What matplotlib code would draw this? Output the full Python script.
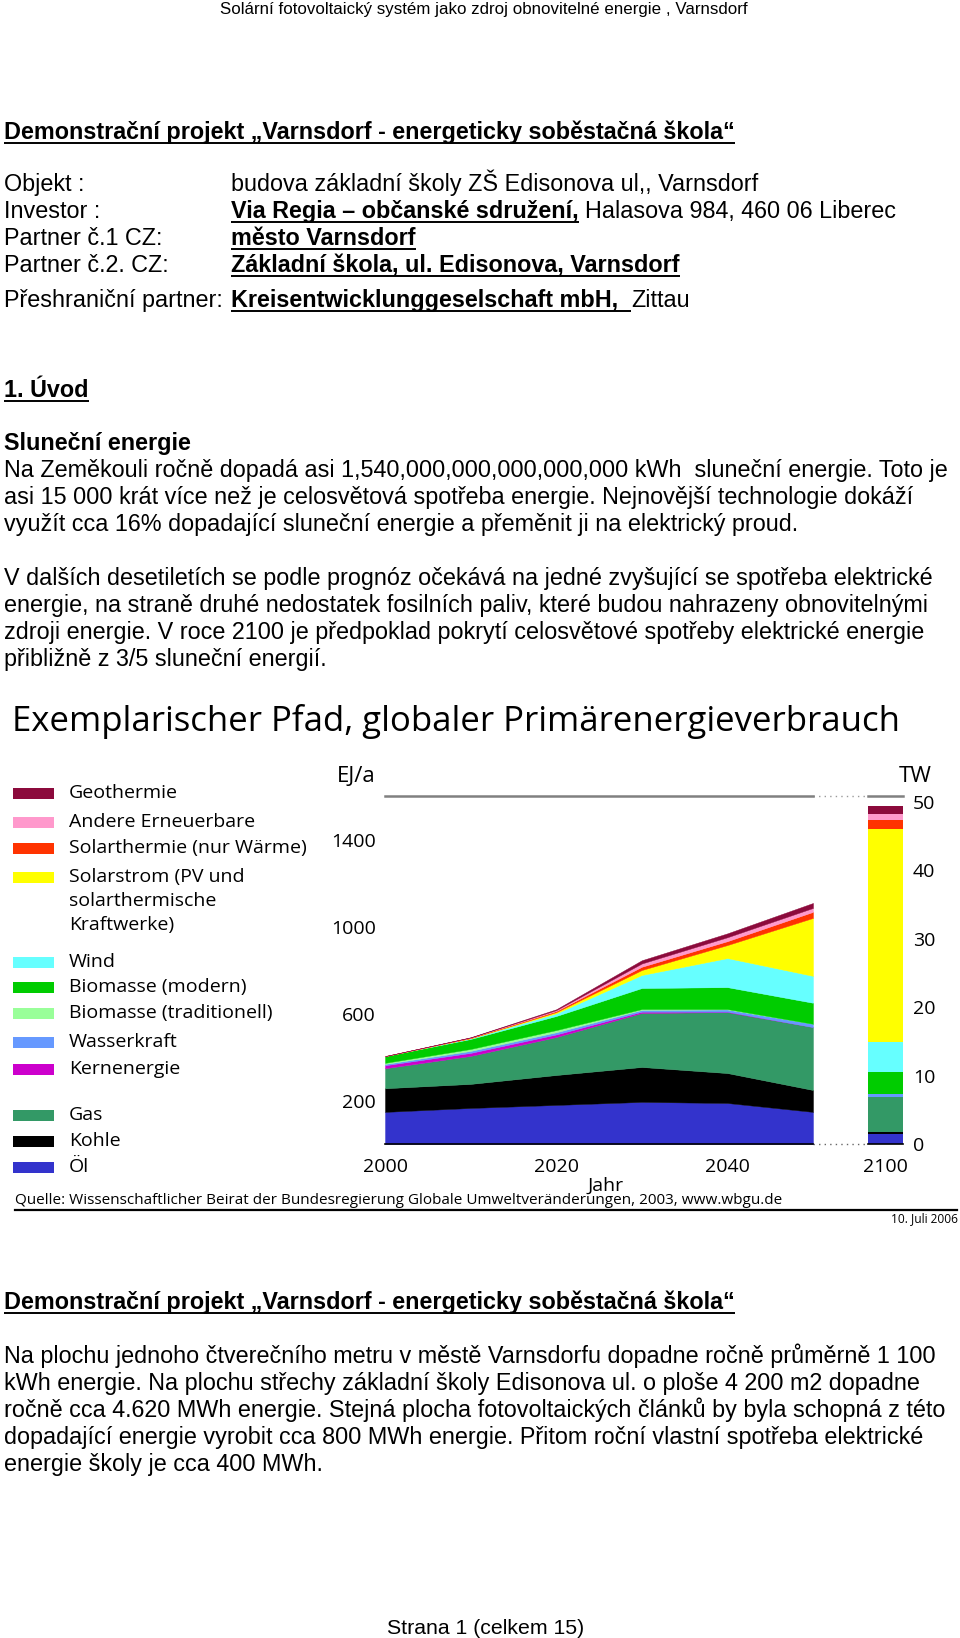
import numpy as np
import matplotlib
matplotlib.use('Agg')
import matplotlib.pyplot as plt
from matplotlib.patches import Rectangle

W, H = 960, 1638

# --- chart data, EJ/a (stack order bottom -> top)
years = [2000, 2010, 2020, 2030, 2040, 2050]
oel = [148, 166, 180, 194, 189, 148]
kohle = [109, 111, 138, 161, 138, 101]
gas = [92, 129, 175, 249, 281, 290]
kern = [14, 14, 12, 6, 2, 0]
wasser = [6, 9, 10, 8, 10, 15]
bio_trad = [5, 9, 10, 4, 2, 0]
bio_mod = [31, 46, 65, 97, 101, 97]
wind = [0, 3, 12, 60, 134, 124]
solarstrom = [0, 1, 6, 23, 60, 267]
solarthermie = [0, 2, 5, 15, 18, 28]
andere = [0, 1, 4, 15, 18, 18]
geothermie = [0, 1, 4, 15, 18, 23]

year_end = 2100
values_2100 = [46, 8, 161, 0, 15, 0, 100, 138, 983, 43, 26, 38]

labels = ['Öl', 'Kohle', 'Gas', 'Kernenergie', 'Wasserkraft',
          'Biomasse (traditionell)', 'Biomasse (modern)', 'Wind',
          'Solarstrom (PV und\nsolarthermische\nKraftwerke)',
          'Solarthermie (nur Wärme)', 'Andere Erneuerbare', 'Geothermie']
colors = ['#3333cc', '#000000', '#339966', '#cc00cc', '#6699ff', '#99ff99',
          '#00cc00', '#66ffff', '#ffff00', '#ff3300', '#ff99cc', '#8c0a3c']

ej_ticks = [200, 600, 1000, 1400]
tw_ticks = [0, 10, 20, 30, 40, 50]
EJ_PER_TW = 31.536
YMAX = 1604

# --- page text
header = 'Solární fotovoltaický systém jako zdroj obnovitelné energie , Varnsdorf'
project_title = 'Demonstrační projekt „Varnsdorf - energeticky soběstačná škola“'
info_rows = [
    ('Objekt :', [('budova základní školy ZŠ Edisonova ul,, Varnsdorf', False, False)]),
    ('Investor :', [('Via Regia – občanské sdružení,', True, True),
                    (' Halasova 984, 460 06 Liberec', False, False)]),
    ('Partner č.1 CZ:', [('město Varnsdorf', True, True)]),
    ('Partner č.2. CZ:', [('Základní škola, ul. Edisonova, Varnsdorf', True, True)]),
    ('Přeshraniční partner:', [('Kreisentwicklunggeselschaft mbH,  ', True, True),
                               ('Zittau', False, False)]),
]
para1 = ['Na Zeměkouli ročně dopadá asi 1,540,000,000,000,000,000 kWh  sluneční energie. Toto je',
         'asi 15 000 krát více než je celosvětová spotřeba energie. Nejnovější technologie dokáží',
         'využít cca 16% dopadající sluneční energie a přeměnit ji na elektrický proud.']
para2 = ['V dalších desetiletích se podle prognóz očekává na jedné zvyšující se spotřeba elektrické',
         'energie, na straně druhé nedostatek fosilních paliv, které budou nahrazeny obnovitelnými',
         'zdroji energie. V roce 2100 je předpoklad pokrytí celosvětové spotřeby elektrické energie',
         'přibližně z 3/5 sluneční energií.']
para3 = ['Na plochu jednoho čtverečního metru v městě Varnsdorfu dopadne ročně průměrně 1 100',
         'kWh energie. Na plochu střechy základní školy Edisonova ul. o ploše 4 200 m2 dopadne',
         'ročně cca 4.620 MWh energie. Stejná plocha fotovoltaických článků by byla schopná z této',
         'dopadající energie vyrobit cca 800 MWh energie. Přitom roční vlastní spotřeba elektrické',
         'energie školy je cca 400 MWh.']
chart_title = 'Exemplarischer Pfad, globaler Primärenergieverbrauch'
quelle = 'Quelle: Wissenschaftlicher Beirat der Bundesregierung Globale Umweltveränderungen, 2003, www.wbgu.de'

plt.rcParams['font.family'] = ['Open Sans', 'DejaVu Sans']
BODY = ['Liberation Sans', 'DejaVu Sans']
FS = 16.8

fig = plt.figure(figsize=(W / 100, H / 100), dpi=100)
page = fig.add_axes([0, 0, 1, 1], zorder=0)
page.set_xlim(0, W)
page.set_ylim(H, 0)
page.axis('off')
rend = fig.canvas.get_renderer()


def width(txt, bold, size=FS):
    t = page.text(0, 0, txt, fontsize=size, family=BODY,
                  fontweight='bold' if bold else 'normal')
    w = t.get_window_extent(rend).width
    t.remove()
    return w


def run(x, y, parts, size=FS):
    for txt, bold, ul in parts:
        core = txt.strip()
        lead = len(txt) - len(txt.lstrip())
        trail = len(txt) - len(txt.rstrip())
        sp = width('a a', bold, size) - width('aa', bold, size)
        x += lead * sp
        page.text(x, y, core, fontsize=size, family=BODY, va='baseline',
                  fontweight='bold' if bold else 'normal')
        w = width(core, bold, size) + trail * sp
        if ul:
            page.plot([x, x + w], [y + 3.5, y + 3.5], color='black', lw=1.4,
                      solid_capstyle='butt')
        x += w
    return x


page.text(484, 14, header, fontsize=12.2, family=BODY, ha='center', va='baseline')
run(4, 139, [(project_title, True, True)])
for (lab, parts), yb in zip(info_rows, [191, 218, 245, 272, 307]):
    run(4, yb, [(lab, False, False)])
    run(231, yb, parts)
run(4, 397, [('1. Úvod', True, True)])
run(4, 450, [('Sluneční energie', True, False)])
for line, yb in zip(para1, [477, 504, 531]):
    run(4, yb, [(line, False, False)])
for line, yb in zip(para2, [585, 612, 639, 666]):
    run(4, yb, [(line, False, False)])
run(4, 1309, [(project_title, True, True)])
for line, yb in zip(para3, [1363, 1390, 1417, 1444, 1471]):
    run(4, yb, [(line, False, False)])
page.text(486, 1634, 'Strana 1 (celkem 15)', fontsize=15.3, family=BODY,
          ha='center', va='baseline')

# --- chart
page.text(12, 731, chart_title, fontsize=25, va='baseline')
legend_y = [1167, 1141, 1115, 1069, 1042, 1013, 987, 962, 877, 848, 822, 793]
for lab, c, yc in zip(labels, colors, legend_y):
    page.add_patch(Rectangle((13, yc - 5.5), 41, 11, color=c, lw=0))
    for k, line in enumerate(lab.split('\n')):
        page.text(69, yc + 5 + k * 24, line, fontsize=14, va='baseline')

page.text(356, 782, 'EJ/a', fontsize=16, ha='center', va='baseline')
page.text(915, 782, 'TW', fontsize=16, ha='center', va='baseline')
page.text(606, 1191, 'Jahr', fontsize=14, ha='center', va='baseline')


def rect(x0, y0, x1, y1):
    return [x0 / W, 1 - y1 / H, (x1 - x0) / W, (y1 - y0) / H]


ax = fig.add_axes(rect(385, 796, 813, 1144))
series = [oel, kohle, gas, kern, wasser, bio_trad, bio_mod, wind,
          solarstrom, solarthermie, andere, geothermie]
ax.stackplot(years, *series, colors=colors, edgecolor='face', linewidth=0.3)
ax.set_xlim(2000, 2050)
ax.set_ylim(0, YMAX)
ax.set_yticks(ej_ticks)
ax.set_xticks([2000, 2020, 2040])
ax.tick_params(axis='y', length=0, pad=6.5, labelsize=14)
ax.tick_params(axis='x', length=0, pad=10, labelsize=14)

ax2 = fig.add_axes(rect(868, 796, 903, 1144))
bottoms = np.cumsum([0] + values_2100[:-1])
for v, b, c in zip(values_2100, bottoms, colors):
    ax2.bar(year_end, v, bottom=b, width=1, color=c, lw=0)
ax2.set_xlim(year_end - 0.5, year_end + 0.5)
ax2.set_ylim(0, YMAX)
ax2.set_yticks([])
ax2.set_xticks([year_end])
ax2.tick_params(axis='x', length=0, pad=10, labelsize=14)

tw = ax2.twinx()
tw.set_ylim(0, YMAX / EJ_PER_TW)
tw.set_yticks(tw_ticks)
tw.tick_params(axis='y', length=0, pad=7, labelsize=14)
for s in tw.spines.values():
    s.set_visible(False)

for a in (ax, ax2):
    a.spines['left'].set_visible(False)
    a.spines['right'].set_visible(False)
    a.spines['top'].set_color('#808080')
    a.spines['top'].set_linewidth(1.8)
    a.spines['bottom'].set_linewidth(1.2)

page.plot([813, 868], [796, 796], color='#9a9a9a', lw=1, ls=(0, (1, 3)))
page.plot([813, 868], [1144, 1144], color='#666666', lw=1, ls=(0, (1, 3)))

page.text(15, 1204, quelle, fontsize=11, va='baseline')
page.plot([15, 957], [1209.5, 1209.5], color='black', lw=1.6)
page.text(958, 1222, '10. Juli 2006', fontsize=8.6, ha='right', va='baseline')

fig.savefig('out.png', dpi=100, facecolor='white')
